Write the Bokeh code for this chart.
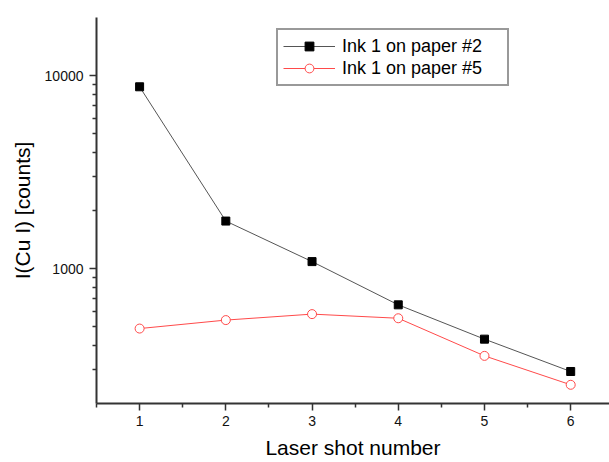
from bokeh.plotting import figure
from bokeh.models import Range1d, Legend, LegendItem, FixedTicker
from bokeh.embed import file_html
from bokeh.resources import INLINE

shots = [1, 2, 3, 4, 5, 6]
ink1_paper2 = [8750, 1763, 1087, 649, 431, 293]
ink1_paper5 = [489, 541, 581, 553, 353, 250]
series_names = ["Ink 1 on paper #2", "Ink 1 on paper #5"]
x_label = "Laser shot number"
y_label = "I(Cu I) [counts]"
y_major = [1000, 10000]
y_minor = [300, 400, 500, 600, 700, 800, 900,
           2000, 3000, 4000, 5000, 6000, 7000, 8000, 9000]
x_minor = [0.5, 1.5, 2.5, 3.5, 4.5, 5.5, 6.5]

FONT = "Liberation Sans"

p = figure(width=609, height=462, output_backend="svg", toolbar_location=None,
           y_axis_type="log",
           x_range=Range1d(0.5, 6.45), y_range=Range1d(200, 20000),
           min_border_left=96, min_border_right=0, min_border_top=17, min_border_bottom=59)
p.outline_line_color = None
p.xgrid.grid_line_color = None
p.ygrid.grid_line_color = None
p.background_fill_color = "white"
p.border_fill_color = "white"

l1 = p.line(shots, ink1_paper2, line_color="#555555", line_width=1)
m1 = p.scatter(shots, ink1_paper2, marker="square", size=8, fill_color="black", line_color="black")
l2 = p.line(shots, ink1_paper5, line_color="#ff4a4a", line_width=1)
m2 = p.scatter(shots, ink1_paper5, marker="circle", size=9, fill_color="white", line_color="#ff4a4a", line_width=1)

p.xaxis.ticker = FixedTicker(ticks=shots, minor_ticks=x_minor)
p.yaxis.ticker = FixedTicker(ticks=y_major, minor_ticks=y_minor)
p.yaxis.major_label_overrides = {1000: "1000", 10000: "10000"}

for ax in (p.xaxis[0], p.yaxis[0]):
    ax.axis_line_color = "#333333"
    ax.axis_line_width = 2
    ax.major_tick_line_color = "#333333"
    ax.minor_tick_line_color = "#333333"
    ax.major_tick_line_width = 1.5
    ax.minor_tick_line_width = 1.5
    ax.major_tick_out = 7
    ax.major_tick_in = 0
    ax.minor_tick_out = 4
    ax.minor_tick_in = 0
    ax.major_label_text_font = FONT
    ax.major_label_text_font_size = "14px"
    ax.major_label_text_color = "#111111"
    ax.axis_label_text_font = FONT
    ax.axis_label_text_font_size = "21px"
    ax.axis_label_text_font_style = "normal"
    ax.axis_label_text_color = "black"

p.xaxis.axis_label = x_label
p.yaxis.axis_label = y_label
p.xaxis.major_label_standoff = 5
p.xaxis.axis_label_standoff = 7
p.yaxis.major_label_standoff = 6
p.yaxis.axis_label_standoff = 8

legend = Legend(items=[LegendItem(label=series_names[0], renderers=[l1, m1]),
                       LegendItem(label=series_names[1], renderers=[l2, m2])],
                location=(180, 317))
legend.label_text_font = FONT
legend.label_text_font_size = "18px"
legend.label_text_color = "black"
legend.border_line_color = "#333333"
legend.border_line_width = 2
legend.glyph_width = 52
legend.glyph_height = 22
legend.label_standoff = 7
legend.label_height = 22
legend.label_width = 160
legend.spacing = 0
legend.padding = 5
legend.margin = 0
legend.background_fill_alpha = 1
p.add_layout(legend)

open("out.html", "w").write(file_html(p, INLINE))
